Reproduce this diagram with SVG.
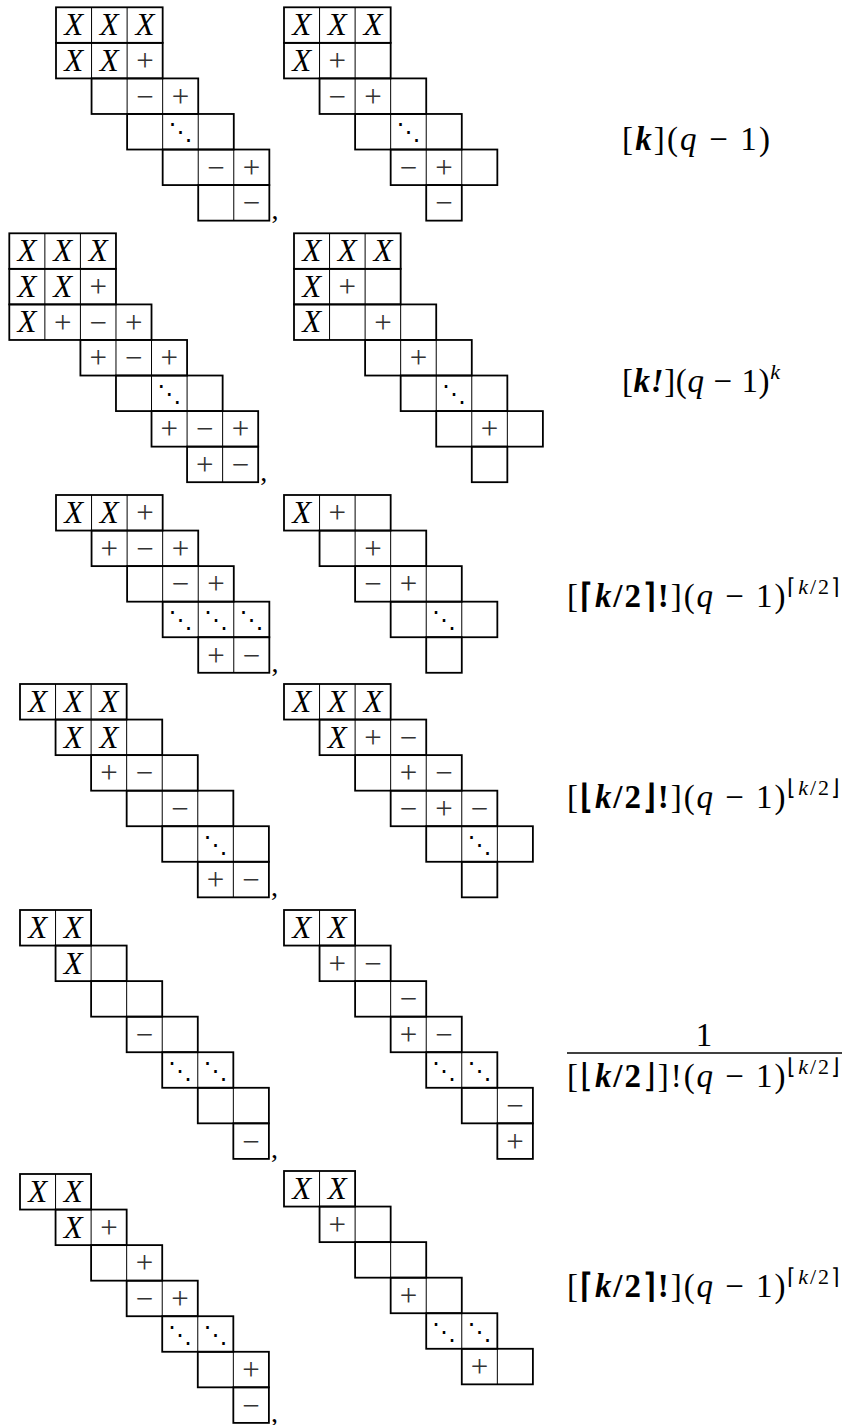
<svg xmlns="http://www.w3.org/2000/svg" width="844" height="1425" viewBox="0 0 844 1425">
<style>
.r{fill:none;stroke:#000;stroke-width:1.8}
.i{fill:none;stroke:#000;stroke-width:1}
.X{font-family:"Liberation Serif",serif;font-style:italic;font-size:31px;text-anchor:middle}
.s{font-family:"Liberation Serif",serif;font-size:31px;text-anchor:middle;fill:#333}
.d{font-family:"DejaVu Sans",sans-serif;font-size:24px;text-anchor:middle}
.c{font-family:"Liberation Serif",serif;font-size:28px}
.f{font-family:"Liberation Serif",serif;font-size:33px}
.b{font-weight:bold;font-style:italic}
.bu{font-weight:bold}
.it{font-style:italic}
.sup{font-size:22px}
</style>
<rect width="844" height="1425" fill="#fff"/>

<g id="d1l" transform="translate(56,7.3)">
<rect class="r" x="0" y="0" width="106.67" height="35.56"/>
<rect class="r" x="0" y="35.56" width="106.67" height="35.56"/>
<rect class="r" x="35.56" y="71.11" width="106.67" height="35.56"/>
<rect class="r" x="71.11" y="106.67" width="106.67" height="35.56"/>
<rect class="r" x="106.67" y="142.22" width="106.67" height="35.56"/>
<rect class="r" x="142.22" y="177.78" width="71.11" height="35.56"/>
<path class="i" d="M35.56 0V71.11M71.11 0V71.11M71.11 71.11V106.67M106.67 71.11V142.22M142.22 106.67V177.78M177.78 142.22V213.33"/>
<text class="X" x="17.78" y="28">X</text><text class="X" x="53.33" y="28">X</text><text class="X" x="88.89" y="28">X</text>
<text class="X" x="17.78" y="63.56">X</text><text class="X" x="53.33" y="63.56">X</text><text class="s" x="88.89" y="63.86">+</text>
<text class="s" x="88.89" y="99.41">−</text><text class="s" x="124.44" y="99.41">+</text>
<text class="d" x="124.44" y="133">⋱</text>
<text class="s" x="160" y="170.52">−</text><text class="s" x="195.56" y="170.52">+</text>
<text class="s" x="195.56" y="206.08">−</text>
<text class="c" x="215.5" y="212">,</text>
</g>

<g id="d1r" transform="translate(284,7.3)">
<rect class="r" x="0" y="0" width="106.67" height="35.56"/>
<rect class="r" x="0" y="35.56" width="106.67" height="35.56"/>
<rect class="r" x="35.56" y="71.11" width="106.67" height="35.56"/>
<rect class="r" x="71.11" y="106.67" width="106.67" height="35.56"/>
<rect class="r" x="106.67" y="142.22" width="106.67" height="35.56"/>
<rect class="r" x="142.22" y="177.78" width="35.56" height="35.56"/>
<path class="i" d="M35.56 0V71.11M71.11 0V71.11M71.11 71.11V106.67M106.67 71.11V142.22M142.22 106.67V177.78M177.78 142.22V177.78"/>
<text class="X" x="17.78" y="28">X</text><text class="X" x="53.33" y="28">X</text><text class="X" x="88.89" y="28">X</text>
<text class="X" x="17.78" y="63.56">X</text><text class="s" x="53.33" y="63.86">+</text>
<text class="s" x="53.33" y="99.41">−</text><text class="s" x="88.89" y="99.41">+</text>
<text class="d" x="124.44" y="133">⋱</text>
<text class="s" x="124.44" y="170.52">−</text><text class="s" x="160" y="170.52">+</text>
<text class="s" x="160" y="206.08">−</text>
</g>

<g id="d2l" transform="translate(9.3,233.3)">
<rect class="r" x="0" y="0" width="106.67" height="35.56"/>
<rect class="r" x="0" y="35.56" width="106.67" height="35.56"/>
<rect class="r" x="0" y="71.11" width="142.22" height="35.56"/>
<rect class="r" x="71.11" y="106.67" width="106.67" height="35.56"/>
<rect class="r" x="106.67" y="142.22" width="106.67" height="35.56"/>
<rect class="r" x="142.22" y="177.78" width="106.67" height="35.56"/>
<rect class="r" x="177.78" y="213.33" width="71.11" height="35.56"/>
<path class="i" d="M35.56 0V106.67M71.11 0V106.67M106.67 71.11V142.22M142.22 106.67V177.78M177.78 142.22V213.33M213.33 177.78V248.89"/>
<text class="X" x="17.78" y="28">X</text><text class="X" x="53.33" y="28">X</text><text class="X" x="88.89" y="28">X</text>
<text class="X" x="17.78" y="63.56">X</text><text class="X" x="53.33" y="63.56">X</text><text class="s" x="88.89" y="63.86">+</text>
<text class="X" x="17.78" y="99.11">X</text><text class="s" x="53.33" y="99.41">+</text><text class="s" x="88.89" y="99.41">−</text><text class="s" x="124.44" y="99.41">+</text>
<text class="s" x="88.89" y="134.97">+</text><text class="s" x="124.44" y="134.97">−</text><text class="s" x="160" y="134.97">+</text>
<text class="d" x="160" y="168.55">⋱</text>
<text class="s" x="160" y="206.08">+</text><text class="s" x="195.56" y="206.08">−</text><text class="s" x="231.11" y="206.08">+</text>
<text class="s" x="195.56" y="241.63">+</text><text class="s" x="231.11" y="241.63">−</text>
<text class="c" x="251" y="247.5">,</text>
</g>

<g id="d2r" transform="translate(294,233.3)">
<rect class="r" x="0" y="0" width="106.67" height="35.56"/>
<rect class="r" x="0" y="35.56" width="106.67" height="35.56"/>
<rect class="r" x="0" y="71.11" width="142.22" height="35.56"/>
<rect class="r" x="71.11" y="106.67" width="106.67" height="35.56"/>
<rect class="r" x="106.67" y="142.22" width="106.67" height="35.56"/>
<rect class="r" x="142.22" y="177.78" width="106.67" height="35.56"/>
<rect class="r" x="177.78" y="213.33" width="35.56" height="35.56"/>
<path class="i" d="M35.56 0V106.67M71.11 0V106.67M106.67 71.11V142.22M142.22 106.67V177.78M177.78 142.22V213.33M213.33 177.78V213.33"/>
<text class="X" x="17.78" y="28">X</text><text class="X" x="53.33" y="28">X</text><text class="X" x="88.89" y="28">X</text>
<text class="X" x="17.78" y="63.56">X</text><text class="s" x="53.33" y="63.86">+</text>
<text class="X" x="17.78" y="99.11">X</text><text class="s" x="88.89" y="99.41">+</text>
<text class="s" x="124.44" y="134.97">+</text>
<text class="d" x="160" y="168.55">⋱</text>
<text class="s" x="195.56" y="206.08">+</text>
</g>

<g id="d3l" transform="translate(56,495)">
<rect class="r" x="0" y="0" width="106.67" height="35.56"/>
<rect class="r" x="35.56" y="35.56" width="106.67" height="35.56"/>
<rect class="r" x="71.11" y="71.11" width="106.67" height="35.56"/>
<rect class="r" x="106.67" y="106.67" width="106.67" height="35.56"/>
<rect class="r" x="142.22" y="142.22" width="71.11" height="35.56"/>
<path class="i" d="M35.56 0V35.56M71.11 0V71.11M106.67 35.56V106.67M142.22 71.11V142.22M177.78 106.67V177.78"/>
<text class="X" x="17.78" y="28">X</text><text class="X" x="53.33" y="28">X</text><text class="s" x="88.89" y="28.3">+</text>
<text class="s" x="53.33" y="63.86">+</text><text class="s" x="88.89" y="63.86">−</text><text class="s" x="124.44" y="63.86">+</text>
<text class="s" x="124.44" y="99.41">−</text><text class="s" x="160" y="99.41">+</text>
<text class="d" x="124.44" y="133">⋱</text><text class="d" x="160" y="133">⋱</text><text class="d" x="195.56" y="133">⋱</text>
<text class="s" x="160" y="170.52">+</text><text class="s" x="195.56" y="170.52">−</text>
<text class="c" x="215.5" y="176.5">,</text>
</g>

<g id="d3r" transform="translate(284,495)">
<rect class="r" x="0" y="0" width="106.67" height="35.56"/>
<rect class="r" x="35.56" y="35.56" width="106.67" height="35.56"/>
<rect class="r" x="71.11" y="71.11" width="106.67" height="35.56"/>
<rect class="r" x="106.67" y="106.67" width="106.67" height="35.56"/>
<rect class="r" x="142.22" y="142.22" width="35.56" height="35.56"/>
<path class="i" d="M35.56 0V35.56M71.11 0V71.11M106.67 35.56V106.67M142.22 71.11V142.22M177.78 106.67V142.22"/>
<text class="X" x="17.78" y="28">X</text><text class="s" x="53.33" y="28.3">+</text>
<text class="s" x="88.89" y="63.86">+</text>
<text class="s" x="88.89" y="99.41">−</text><text class="s" x="124.44" y="99.41">+</text>
<text class="d" x="160" y="133">⋱</text>
</g>

<g id="d4l" transform="translate(20,684)">
<rect class="r" x="0" y="0" width="106.67" height="35.56"/>
<rect class="r" x="35.56" y="35.56" width="106.67" height="35.56"/>
<rect class="r" x="71.11" y="71.11" width="106.67" height="35.56"/>
<rect class="r" x="106.67" y="106.67" width="106.67" height="35.56"/>
<rect class="r" x="142.22" y="142.22" width="106.67" height="35.56"/>
<rect class="r" x="177.78" y="177.78" width="71.11" height="35.56"/>
<path class="i" d="M35.56 0V35.56M71.11 0V71.11M106.67 35.56V106.67M142.22 71.11V142.22M177.78 106.67V177.78M213.33 142.22V213.33"/>
<text class="X" x="17.78" y="28">X</text><text class="X" x="53.33" y="28">X</text><text class="X" x="88.89" y="28">X</text>
<text class="X" x="53.33" y="63.56">X</text><text class="X" x="88.89" y="63.56">X</text>
<text class="s" x="88.89" y="99.41">+</text><text class="s" x="124.44" y="99.41">−</text>
<text class="s" x="160" y="134.97">−</text>
<text class="d" x="195.56" y="168.55">⋱</text>
<text class="s" x="195.56" y="206.08">+</text><text class="s" x="231.11" y="206.08">−</text>
<text class="c" x="251" y="212">,</text>
</g>

<g id="d4r" transform="translate(284,684)">
<rect class="r" x="0" y="0" width="106.67" height="35.56"/>
<rect class="r" x="35.56" y="35.56" width="106.67" height="35.56"/>
<rect class="r" x="71.11" y="71.11" width="106.67" height="35.56"/>
<rect class="r" x="106.67" y="106.67" width="106.67" height="35.56"/>
<rect class="r" x="142.22" y="142.22" width="106.67" height="35.56"/>
<rect class="r" x="177.78" y="177.78" width="35.56" height="35.56"/>
<path class="i" d="M35.56 0V35.56M71.11 0V71.11M106.67 35.56V106.67M142.22 71.11V142.22M177.78 106.67V177.78M213.33 142.22V177.78"/>
<text class="X" x="17.78" y="28">X</text><text class="X" x="53.33" y="28">X</text><text class="X" x="88.89" y="28">X</text>
<text class="X" x="53.33" y="63.56">X</text><text class="s" x="88.89" y="63.86">+</text><text class="s" x="124.44" y="63.86">−</text>
<text class="s" x="124.44" y="99.41">+</text><text class="s" x="160" y="99.41">−</text>
<text class="s" x="124.44" y="134.97">−</text><text class="s" x="160" y="134.97">+</text><text class="s" x="195.56" y="134.97">−</text>
<text class="d" x="195.56" y="168.55">⋱</text>
</g>

<g id="d5l" transform="translate(20,910)">
<rect class="r" x="0" y="0" width="71.11" height="35.56"/>
<rect class="r" x="35.56" y="35.56" width="71.11" height="35.56"/>
<rect class="r" x="71.11" y="71.11" width="71.11" height="35.56"/>
<rect class="r" x="106.67" y="106.67" width="71.11" height="35.56"/>
<rect class="r" x="142.22" y="142.22" width="71.11" height="35.56"/>
<rect class="r" x="177.78" y="177.78" width="71.11" height="35.56"/>
<rect class="r" x="213.33" y="213.33" width="35.56" height="35.56"/>
<path class="i" d="M35.56 0V35.56M71.11 35.56V71.11M106.67 71.11V106.67M142.22 106.67V142.22M177.78 142.22V177.78M213.33 177.78V213.33"/>
<text class="X" x="17.78" y="28">X</text><text class="X" x="53.33" y="28">X</text>
<text class="X" x="53.33" y="63.56">X</text>
<text class="s" x="124.44" y="134.97">−</text>
<text class="d" x="160" y="168.55">⋱</text><text class="d" x="195.56" y="168.55">⋱</text>
<text class="s" x="231.11" y="241.63">−</text>
<text class="c" x="251" y="247.5">,</text>
</g>

<g id="d5r" transform="translate(284,910)">
<rect class="r" x="0" y="0" width="71.11" height="35.56"/>
<rect class="r" x="35.56" y="35.56" width="71.11" height="35.56"/>
<rect class="r" x="71.11" y="71.11" width="71.11" height="35.56"/>
<rect class="r" x="106.67" y="106.67" width="71.11" height="35.56"/>
<rect class="r" x="142.22" y="142.22" width="71.11" height="35.56"/>
<rect class="r" x="177.78" y="177.78" width="71.11" height="35.56"/>
<rect class="r" x="213.33" y="213.33" width="35.56" height="35.56"/>
<path class="i" d="M35.56 0V35.56M71.11 35.56V71.11M106.67 71.11V106.67M142.22 106.67V142.22M177.78 142.22V177.78M213.33 177.78V213.33"/>
<text class="X" x="17.78" y="28">X</text><text class="X" x="53.33" y="28">X</text>
<text class="s" x="53.33" y="63.86">+</text><text class="s" x="88.89" y="63.86">−</text>
<text class="s" x="124.44" y="99.41">−</text>
<text class="s" x="124.44" y="134.97">+</text><text class="s" x="160" y="134.97">−</text>
<text class="d" x="160" y="168.55">⋱</text><text class="d" x="195.56" y="168.55">⋱</text>
<text class="s" x="231.11" y="206.08">−</text>
<text class="s" x="231.11" y="241.63">+</text>
</g>

<g id="d6l" transform="translate(20,1174)">
<rect class="r" x="0" y="0" width="71.11" height="35.56"/>
<rect class="r" x="35.56" y="35.56" width="71.11" height="35.56"/>
<rect class="r" x="71.11" y="71.11" width="71.11" height="35.56"/>
<rect class="r" x="106.67" y="106.67" width="71.11" height="35.56"/>
<rect class="r" x="142.22" y="142.22" width="71.11" height="35.56"/>
<rect class="r" x="177.78" y="177.78" width="71.11" height="35.56"/>
<rect class="r" x="213.33" y="213.33" width="35.56" height="35.56"/>
<path class="i" d="M35.56 0V35.56M71.11 35.56V71.11M106.67 71.11V106.67M142.22 106.67V142.22M177.78 142.22V177.78M213.33 177.78V213.33"/>
<text class="X" x="17.78" y="28">X</text><text class="X" x="53.33" y="28">X</text>
<text class="X" x="53.33" y="63.56">X</text><text class="s" x="88.89" y="63.86">+</text>
<text class="s" x="124.44" y="99.41">+</text>
<text class="s" x="124.44" y="134.97">−</text><text class="s" x="160" y="134.97">+</text>
<text class="d" x="160" y="168.55">⋱</text><text class="d" x="195.56" y="168.55">⋱</text>
<text class="s" x="231.11" y="206.08">+</text>
<text class="s" x="231.11" y="241.63">−</text>
<text class="c" x="251" y="247.5">,</text>
</g>

<g id="d6r" transform="translate(284,1171)">
<rect class="r" x="0" y="0" width="71.11" height="35.56"/>
<rect class="r" x="35.56" y="35.56" width="71.11" height="35.56"/>
<rect class="r" x="71.11" y="71.11" width="71.11" height="35.56"/>
<rect class="r" x="106.67" y="106.67" width="71.11" height="35.56"/>
<rect class="r" x="142.22" y="142.22" width="71.11" height="35.56"/>
<rect class="r" x="177.78" y="177.78" width="71.11" height="35.56"/>
<path class="i" d="M35.56 0V35.56M71.11 35.56V71.11M106.67 71.11V106.67M142.22 106.67V142.22M177.78 142.22V177.78M213.33 177.78V213.33"/>
<text class="X" x="17.78" y="28">X</text><text class="X" x="53.33" y="28">X</text>
<text class="s" x="53.33" y="63.86">+</text>
<text class="s" x="124.44" y="134.97">+</text>
<text class="d" x="160" y="168.55">⋱</text><text class="d" x="195.56" y="168.55">⋱</text>
<text class="s" x="195.56" y="206.08">+</text>
</g>

<g id="formulas">
<text class="f" x="622" y="150" textLength="148">[<tspan class="b">k</tspan>](<tspan class="it">q</tspan> − 1)</text>
<text class="f" x="622" y="392" textLength="158">[<tspan class="b">k!</tspan>](<tspan class="it">q</tspan> − 1)<tspan class="sup it" dy="-13">k</tspan></text>
<text class="f" x="567" y="607" textLength="273">[<tspan class="bu">⌈</tspan><tspan class="b">k</tspan><tspan class="bu">/2⌉!</tspan>](<tspan class="it">q</tspan> − 1)<tspan class="sup" dy="-13">⌈<tspan class="it">k</tspan>/2⌉</tspan></text>
<text class="f" x="567" y="808" textLength="273">[<tspan class="bu">⌊</tspan><tspan class="b">k</tspan><tspan class="bu">/2⌋!</tspan>](<tspan class="it">q</tspan> − 1)<tspan class="sup" dy="-13">⌊<tspan class="it">k</tspan>/2⌋</tspan></text>
<text class="f" x="704" y="1046" text-anchor="middle">1</text>
<line x1="567" y1="1053" x2="842" y2="1053" stroke="#000" stroke-width="1.3"/>
<text class="f" x="567" y="1087" textLength="273">[⌊<tspan class="b">k</tspan><tspan class="bu">/2</tspan>⌋]!(<tspan class="it">q</tspan> − 1)<tspan class="sup" dy="-13">⌊<tspan class="it">k</tspan>/2⌋</tspan></text>
<text class="f" x="567" y="1297" textLength="273">[<tspan class="bu">⌈</tspan><tspan class="b">k</tspan><tspan class="bu">/2⌉!</tspan>](<tspan class="it">q</tspan> − 1)<tspan class="sup" dy="-13">⌈<tspan class="it">k</tspan>/2⌉</tspan></text>
</g>
</svg>
